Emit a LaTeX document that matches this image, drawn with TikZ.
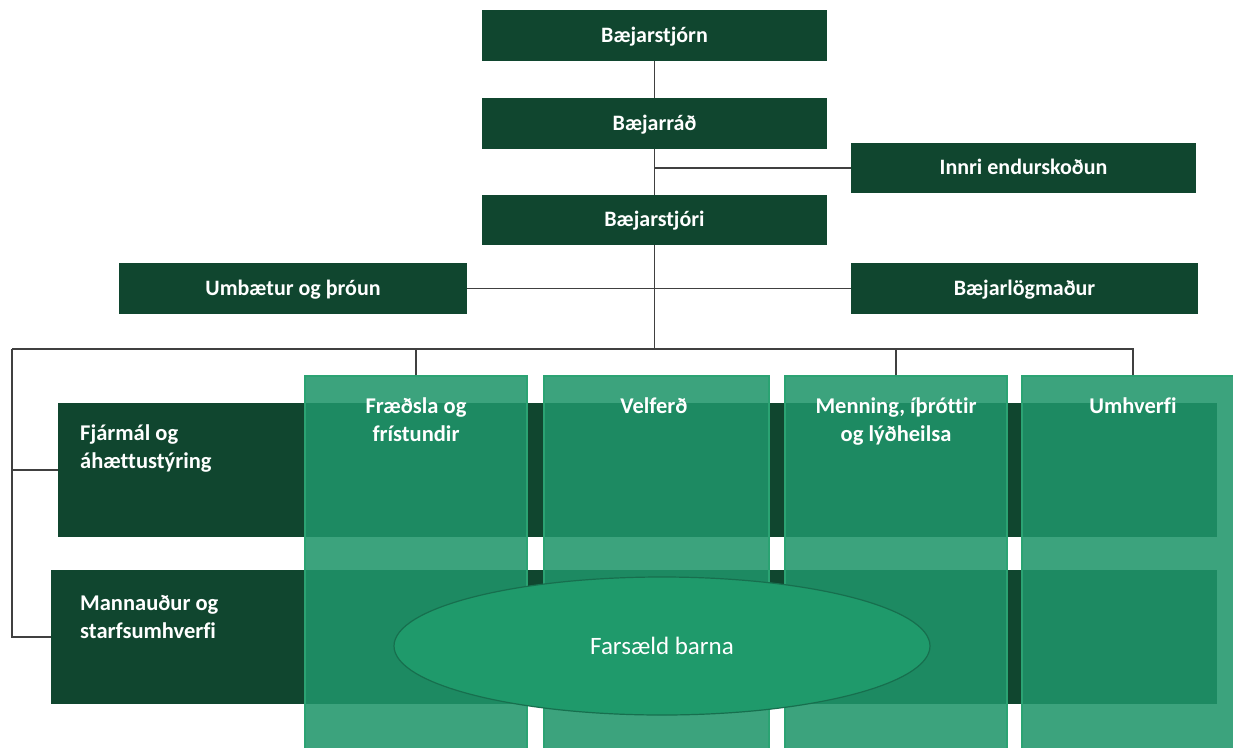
\documentclass[tikz,border=0pt]{standalone}
\usepackage{fontspec}
\setmainfont{Carlito}[Ligatures=NoCommon]
\usetikzlibrary{shapes.geometric}
\definecolor{dkgreen}{HTML}{10462F}
\definecolor{colgreen}{HTML}{1F956A}
\definecolor{colborder}{HTML}{2BA373}
\definecolor{ellgreen}{HTML}{1F9A6B}
\definecolor{ellborder}{HTML}{176F4E}
\definecolor{linegray}{HTML}{404040}
\tikzset{
  topbox/.style={fill=dkgreen, draw=none, text=white, font=\fontsize{22}{26}\selectfont\bfseries, minimum width=345pt, minimum height=51pt, inner sep=0pt, text height=13pt, text depth=0pt},
  bandbox/.style={fill=dkgreen, draw=none, inner sep=0pt},
  colbox/.style={fill=colgreen, fill opacity=0.87, draw=colborder, line width=1.2pt, inner sep=0pt},
  lbl/.style={text=white, font=\fontsize{22.5}{28}\selectfont\bfseries, inner sep=0pt},
  conn/.style={draw=linegray, line width=1.3pt},
}
\begin{document}
\begin{tikzpicture}[x=1pt,y=-1pt]
\useasboundingbox (0,0) rectangle (1233,747);
\begin{scope}
\clip (0,0) rectangle (1233,747);
% top boxes
\node[topbox] (bjn) at (654.5,35.5) {Bæjarstjórn};
\node[topbox] (brd) at (654.5,123.5) {Bæjarráð};
\node[topbox, minimum height=50pt] (inn) at (1023.5,168) {Innri endurskoðun};
\node[topbox, minimum height=50pt] (bst) at (654.5,220) {Bæjarstjóri};
\node[topbox, minimum width=348pt] (umb) at (293,288.5) {Umbætur og þróun};
\node[topbox, minimum width=347pt] (blm) at (1024.5,288.5) {Bæjarlögmaður};
% bands
\node[bandbox, minimum width=1159pt, minimum height=134pt] (fja) at (637.5,470) {};
\node[bandbox, minimum width=1166pt, minimum height=134pt] (man) at (634,637) {};
% columns
\node[colbox, minimum width=222pt, minimum height=384pt] (c1) at (416,568) {};
\node[colbox, minimum width=225pt, minimum height=384pt] (c2) at (656.5,568) {};
\node[colbox, minimum width=222pt, minimum height=384pt] (c3) at (896,568) {};
\node[colbox, minimum width=222pt, minimum height=384pt] (c4) at (1133,568) {};
% ellipse
\node[ellipse, fill=ellgreen, draw=ellborder, line width=1.2pt, minimum width=536pt, minimum height=138pt, text=white, font=\fontsize{25}{28}\selectfont] (fb) at (662,646) {Farsæld barna};
% labels
\node[lbl, anchor=north west, align=left] (fjat) at (80,425) {Fjármál og\\áhættustýring};
\node[lbl, anchor=north west, align=left] (mant) at (80,595) {Mannauður og\\starfsumhverfi};
\node[lbl, anchor=north, align=center] (c1t) at (416,398) {Fræðsla og\\frístundir};
\node[lbl, anchor=north, align=center] (c2t) at (654,398) {Velferð};
\node[lbl, anchor=north, align=center] (c3t) at (896,398) {Menning, íþróttir\\og lýðheilsa};
\node[lbl, anchor=north, align=center] (c4t) at (1133,398) {Umhverfi};
% connectors
\coordinate (busL) at (12,349);
\coordinate (busR) at (1134,349);
\draw[conn] (bjn) -- (brd);
\draw[conn] (brd) -- (bst);
\draw[conn] (inn.west) -- (inn.west -| brd.south);
\draw[conn] (umb.east) -- (blm.west);
\draw[conn] (bst.south) -- (bst.south |- busL);
\draw[conn] (busL) -- (busR);
\draw[conn] (c1.north) -- (c1.north |- busL);
\draw[conn] (c3.north) -- (c3.north |- busL);
\draw[conn] (c4.north) -- (c4.north |- busL);
\draw[conn] (busL) |- (man.west);
\draw[conn] (busL |- fja.west) -- (fja.west);
\end{scope}
\end{tikzpicture}
\end{document}
